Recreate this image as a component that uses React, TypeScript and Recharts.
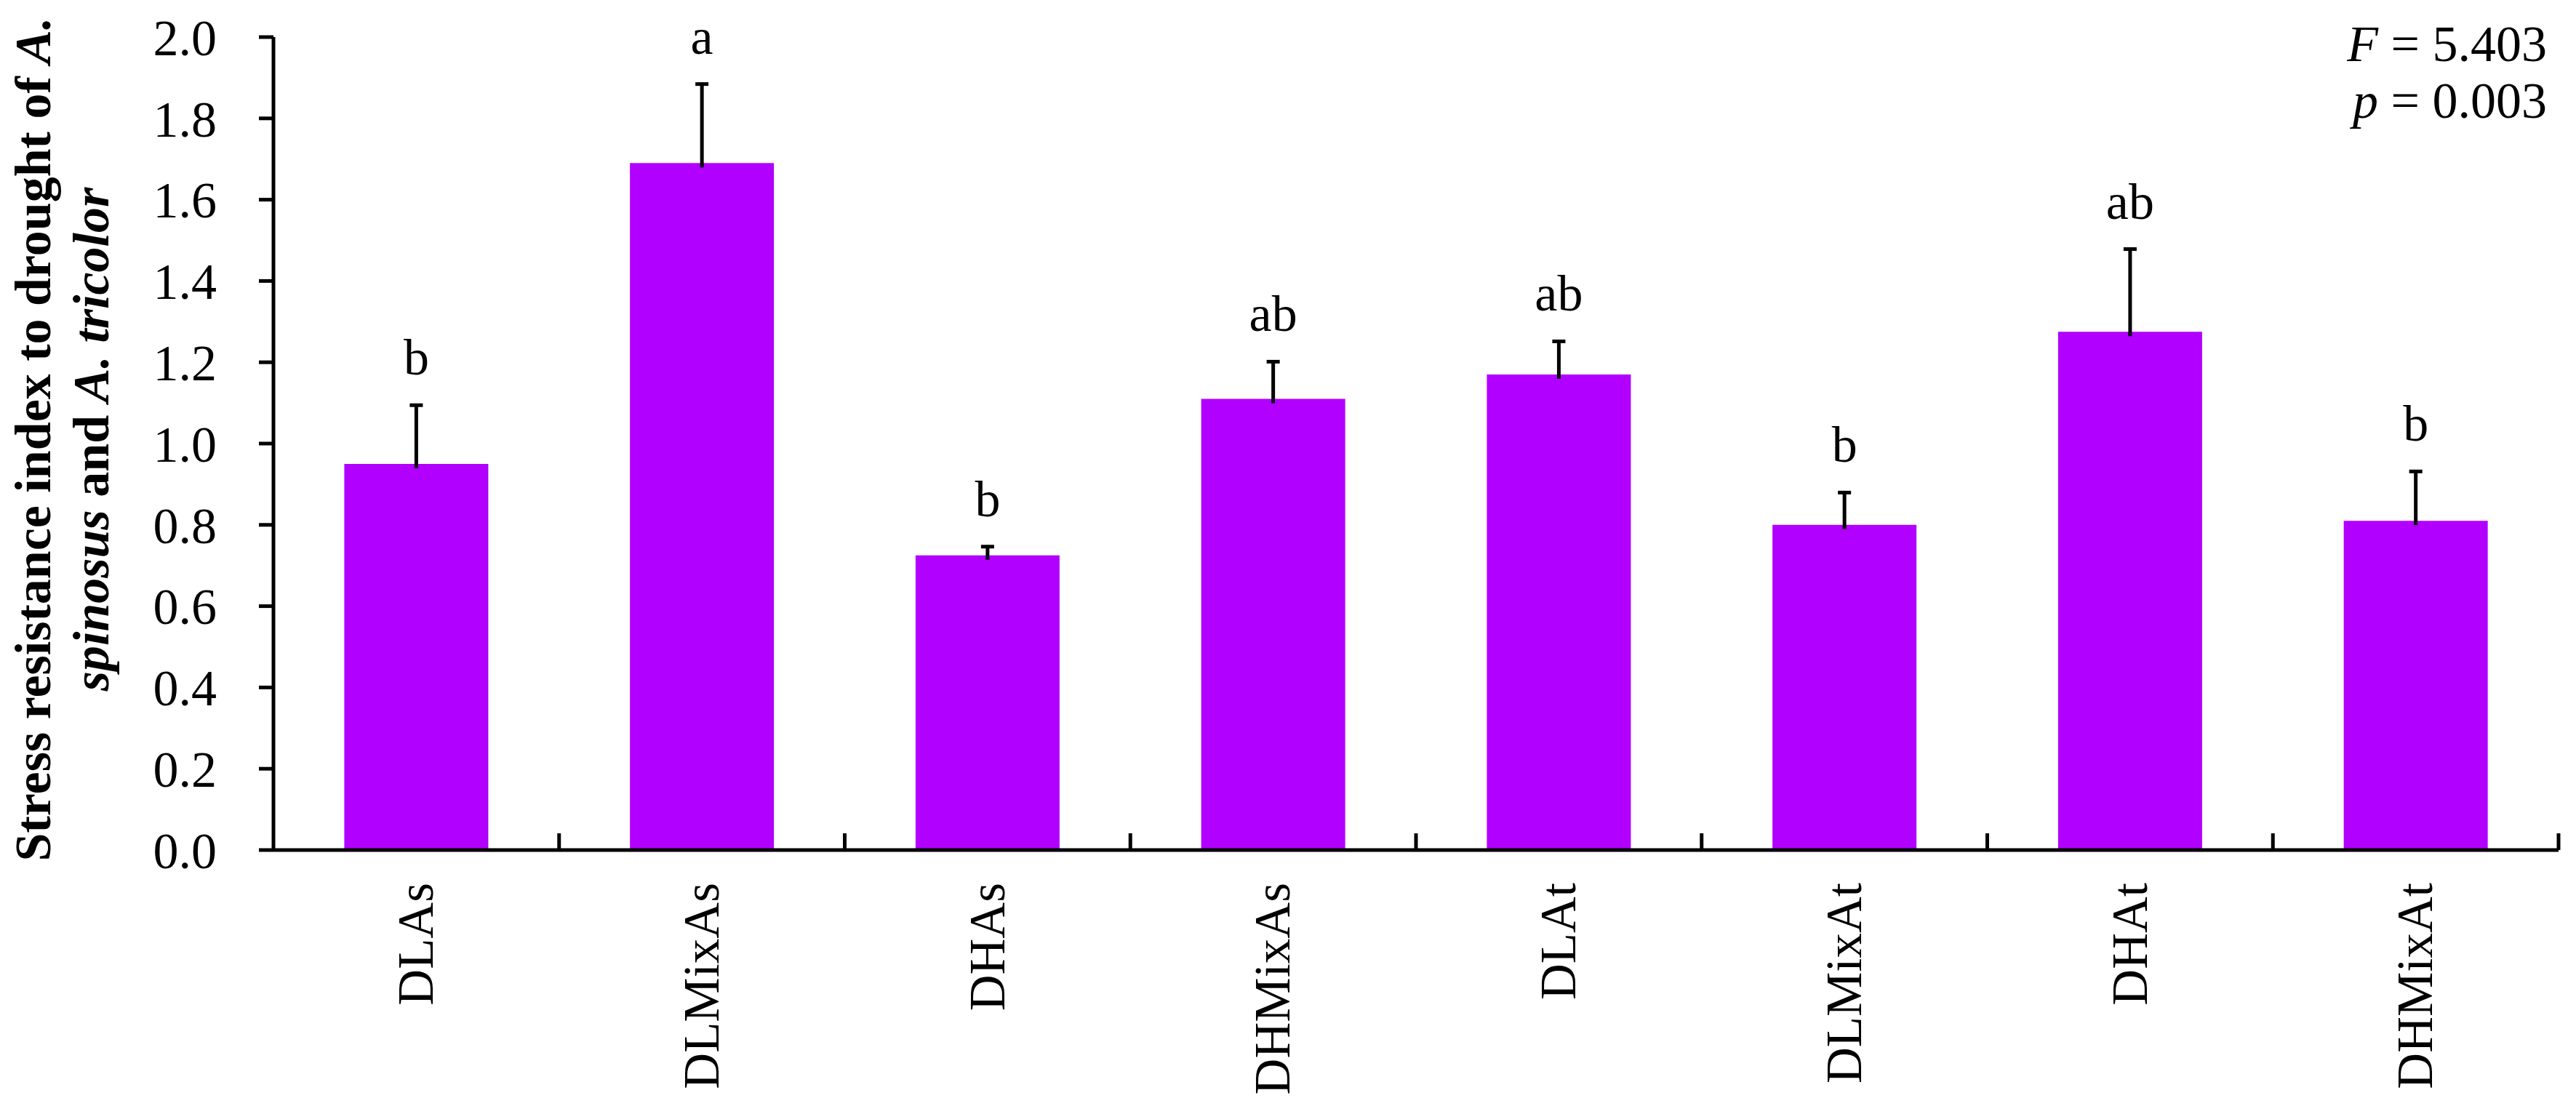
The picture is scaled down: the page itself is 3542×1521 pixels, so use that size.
import React from "react";
import { Bar, BarChart, LabelList, XAxis, YAxis } from "recharts";

const groups = ["DLAs", "DLMixAs", "DHAs", "DHMixAs", "DLAt", "DLMixAt", "DHAt", "DHMixAt"];
const means = [0.95, 1.69, 0.725, 1.11, 1.17, 0.8, 1.275, 0.81];
const errors = [0.148, 0.198, 0.025, 0.095, 0.085, 0.083, 0.207, 0.125];
const letters = ["b", "a", "b", "ab", "ab", "b", "ab", "b"];
const yTicks = [0, 0.2, 0.4, 0.6, 0.8, 1.0, 1.2, 1.4, 1.6, 1.8, 2.0];

const W = 3542;
const H = 1521;
const FONT = "'Liberation Serif', 'Times New Roman', serif";
const BAR_COLOR = "#b100ff";
const LABEL_GAP = 45;

const data = groups.map((name, i) => ({
  name,
  mean: means[i],
  err: errors[i],
  letter: letters[i],
}));

// one-sided error whisker drawn on top of the mean bar
const Whisker = (props: any) => {
  const { x, y, width, height } = props;
  if (x == null || y == null) return null;
  const cx = x + width / 2;
  return (
    <g>
      <line x1={cx} x2={cx} y1={y} y2={y + height + 6} stroke="#000" strokeWidth={5} />
      <line x1={cx - 9} x2={cx + 9} y1={y + 2} y2={y + 2} stroke="#000" strokeWidth={5} />
    </g>
  );
};

// rotated category label, plus the inward tick on the right edge of its band
const CategoryTick = (props: any) => {
  const { x, y, payload, width, visibleTicksCount } = props;
  const half = payload.offset ?? width / (2 * (visibleTicksCount || groups.length));
  const edge = x + half;
  const axisY = y - LABEL_GAP;
  return (
    <g>
      <line x1={edge} x2={edge} y1={axisY} y2={axisY - 23} stroke="#000" strokeWidth={5} />
      <text
        x={x}
        y={y}
        transform={`rotate(-90, ${x}, ${y})`}
        textAnchor="end"
        dy="0.33em"
        fontSize={69}
        fill="#000"
        fontFamily={FONT}
      >
        {payload.value}
      </text>
    </g>
  );
};

const YTitle = (props: any) => {
  const vb = props.viewBox || { y: 51, height: 1118 };
  const cy = vb.y + vb.height / 2 - 6;
  return (
    <g fontFamily={FONT} fontWeight="bold" fontSize={70} fill="#000">
      <text x={69} y={cy} transform={`rotate(-90, 69, ${cy})`} textAnchor="middle">
        Stress resistance index to drought of <tspan fontStyle="italic">A.</tspan>
      </text>
      <text x={149} y={cy} transform={`rotate(-90, 149, ${cy})`} textAnchor="middle">
        <tspan fontStyle="italic">spinosus</tspan>
        {" and "}
        <tspan fontStyle="italic">A. tricolor</tspan>
      </text>
    </g>
  );
};

export default function App() {
  const axisStroke = { stroke: "#000", strokeWidth: 5 };
  return (
    <div
      style={{
        position: "absolute",
        left: 0,
        top: 0,
        width: W,
        height: H,
        background: "#fff",
        fontFamily: FONT,
      }}
    >
      <BarChart
        width={W}
        height={H}
        data={data}
        margin={{ top: 51, right: 24, left: 0, bottom: 0 }}
        barCategoryGap="24.8%"
      >
        <XAxis
          dataKey="name"
          height={352}
          axisLine={axisStroke}
          tickLine={false}
          tickSize={0}
          tickMargin={LABEL_GAP}
          interval={0}
          tick={<CategoryTick />}
        />
        <YAxis
          width={376}
          domain={[0, 2]}
          ticks={yTicks}
          interval={0}
          tickFormatter={(v: number) => v.toFixed(1)}
          tickSize={20}
          tickMargin={58}
          axisLine={axisStroke}
          tickLine={axisStroke}
          tick={{ fill: "#000", fontSize: 70, fontFamily: FONT }}
          label={{ content: (p: any) => <YTitle {...p} /> }}
        />
        <Bar dataKey="mean" stackId="s" fill={BAR_COLOR} isAnimationActive={false} />
        <Bar dataKey="err" stackId="s" shape={<Whisker />} isAnimationActive={false}>
          <LabelList
            dataKey="letter"
            position="top"
            offset={40}
            fill="#000"
            fontSize={70}
            fontFamily={FONT}
          />
        </Bar>
      </BarChart>
      <div
        style={{
          position: "absolute",
          right: 40,
          top: 22,
          fontSize: 70,
          lineHeight: "78px",
          textAlign: "right",
          color: "#000",
        }}
      >
        <div>
          <i>F</i> = 5.403
        </div>
        <div>
          <i>p</i> = 0.003
        </div>
      </div>
    </div>
  );
}
